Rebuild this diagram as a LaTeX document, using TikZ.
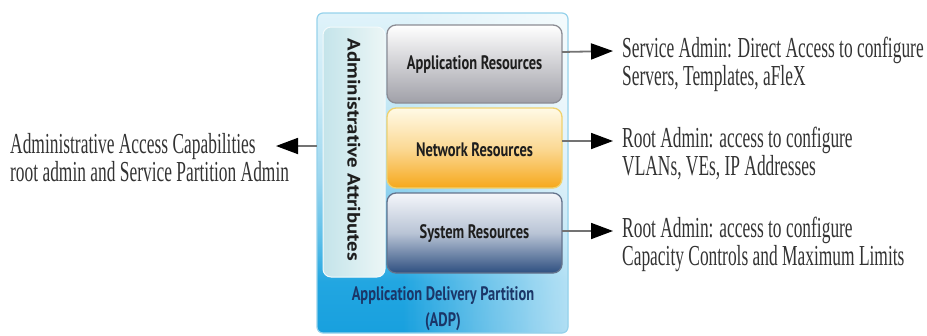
\documentclass[tikz,border=0pt]{standalone}
\usepackage{fontspec}
\setmainfont{Liberation Serif}[FakeStretch=0.60]
\newfontfamily\boxfont{PT Sans}[FakeStretch=0.74]
\newfontfamily\vertfont{PT Sans}[FakeStretch=1.15]
\usetikzlibrary{arrows.meta,fadings}
\definecolor{adpblue}{RGB}{24,160,222}
\definecolor{adpb2}{RGB}{34,166,225}
\definecolor{adpb3}{RGB}{95,192,233}
\definecolor{adpb4}{RGB}{155,214,239}
\definecolor{adpb5}{RGB}{198,233,246}
\definecolor{adptop}{RGB}{224,243,250}
\definecolor{adpedge}{RGB}{150,210,235}
\definecolor{adptext}{RGB}{27,54,104}
\definecolor{grybot}{RGB}{160,160,168}
\definecolor{gryedge}{RGB}{140,140,148}
\definecolor{orgtop}{RGB}{255,250,230}
\definecolor{orgbot}{RGB}{246,168,28}
\definecolor{orgedge}{RGB}{240,210,110}
\definecolor{systop}{RGB}{244,246,250}
\definecolor{sysbot}{RGB}{46,79,128}
\definecolor{sysedge}{RGB}{100,115,140}
\definecolor{admtop}{RGB}{196,228,234}
\definecolor{admbot}{RGB}{236,246,246}
\definecolor{labtext}{RGB}{30,30,30}
\pgfdeclareverticalshading{adpvert}{100bp}{color(0bp)=(adpblue); color(25bp)=(adpblue); color(33bp)=(adpb2); color(40bp)=(adpb3); color(49bp)=(adpb4); color(61.4bp)=(adpb5); color(75bp)=(adptop); color(100bp)=(adptop)}
\pgfdeclarehorizontalshading{fadeRshade}{100bp}{color(0bp)=(black); color(42bp)=(black); color(60bp)=(black!60!white); color(90bp)=(white); color(100bp)=(white)}
\pgfdeclarefading{fadeR}{\pgfuseshading{fadeRshade}}
\tikzset{
  resbox/.style={rounded corners=9pt, line width=1.3pt},
  reslabel/.style={font=\boxfont\bfseries\fontsize{19.5}{22}\selectfont, text=labtext},
  desc/.style={font=\fontsize{29}{28}\selectfont, align=left, anchor=north west, inner sep=0pt, text=black!80},
  arr/.style={draw=black!55, line width=1.8pt, -{Triangle[length=22pt,width=16pt,fill=black,color=black]}},
}
\begin{document}
\begin{tikzpicture}[x=1pt,y=-1pt]
\useasboundingbox (0,0) rectangle (927,335);
% outer ADP box
\path[rounded corners=6pt, shading=adpvert] (317,13) rectangle (568,333);
\fill[white, rounded corners=6pt, path fading=fadeR, fill opacity=0.95] (317,13) rectangle (568,333);
\draw[adpedge, line width=1.2pt, rounded corners=6pt] (317,13) rectangle (568,333);
\node[draw=none, inner sep=0pt, minimum width=251pt, minimum height=320pt] (adp) at (442.5,173) {};
% administrative attributes
\path[rounded corners=8pt, left color=admtop, right color=admbot, draw=white!80!admtop, line width=1pt]
  (323,27) rectangle (385,277);
\node[rotate=-90, font=\vertfont\bfseries\fontsize{18}{20}\selectfont, text=labtext] (adm) at (354,150) {Administrative Attributes};
% resource boxes
\path[resbox, top color=white, bottom color=grybot, draw=gryedge] (387,25) rectangle (562,103);
\node[reslabel] (app) at (474.5,65) {Application Resources};
\path[resbox, top color=orgtop, bottom color=orgbot, middle color=orgtop!60!orgbot, draw=orgedge] (387,108) rectangle (562,188);
\node[reslabel] (net) at (474.5,150) {Network Resources};
\path[resbox, top color=systop, bottom color=sysbot, middle color=systop!70!sysbot, draw=sysedge] (387,193) rectangle (562,273);
\node[reslabel] (sys) at (474.5,234) {System Resources};
\coordinate (appE) at (562,64);
\coordinate (netE) at (562,148);
\coordinate (sysE) at (562,233);
% ADP label
\node[font=\boxfont\bfseries\fontsize{19.5}{26}\selectfont, text=adptext, align=center] (adplab) at (443,309) {Application Delivery Partition\\(ADP)};
% descriptions
\node[desc] (apptxt) at (622,37) {Service Admin: Direct Access to configure\\Servers, Templates, aFleX};
\node[desc] (nettxt) at (622,127) {Root Admin: access to configure\\VLANs, VEs, IP Addresses};
\node[desc] (systxt) at (622,217) {Root Admin: access to configure\\Capacity Controls and Maximum Limits};
\node[desc] (lefttxt) at (10,133) {Administrative Access Capabilities\\root admin and Service Partition Admin};
% arrows
\draw[arr] (appE |- 0,52) -- ([xshift=-9pt,yshift=-14pt]apptxt.north west);
\draw[arr] (netE |- 0,141) -- ([xshift=-9pt,yshift=-14pt]nettxt.north west);
\draw[arr] (sysE |- 0,231) -- ([xshift=-9pt,yshift=-14pt]systxt.north west);
\draw[arr] (adp.west |- 0,146) -- (276,146);
\end{tikzpicture}
\end{document}
